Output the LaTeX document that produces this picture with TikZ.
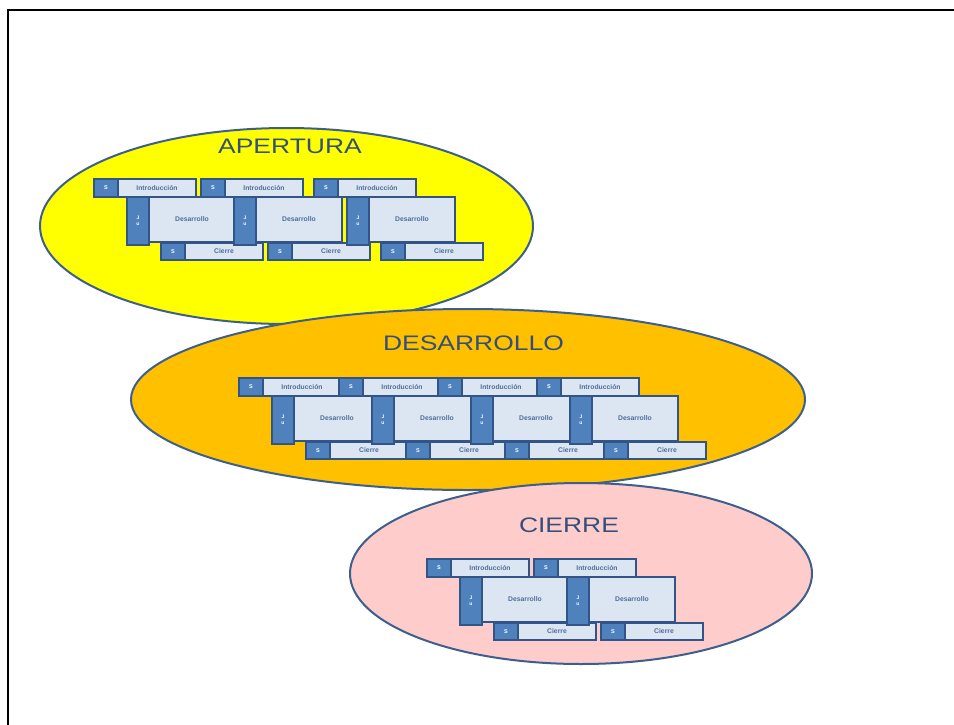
\documentclass[tikz,border=0pt]{standalone}
\usepackage{fontspec}
\setmainfont{Liberation Sans}
\newfontfamily\titlefont[FakeStretch=1.26]{Liberation Sans}
\usetikzlibrary{shapes.geometric}
\definecolor{ellborder}{HTML}{3C5F8E}
\definecolor{titlecol}{HTML}{34507A}
\definecolor{apfill}{HTML}{FFFF00}
\definecolor{desfill}{HTML}{FFC000}
\definecolor{cifill}{HTML}{FFCCCC}
\definecolor{modborder}{HTML}{325486}
\definecolor{modblue}{HTML}{4F81BD}
\definecolor{modlight}{HTML}{DCE6F2}
\definecolor{modtext}{HTML}{4F6D9A}
\tikzset{
  dkbox/.style={draw=modborder, fill=modblue, line width=2.2pt, rectangle, inner sep=0pt, outer sep=0pt,
    text=white, font=\bfseries\fontsize{5.5}{6}\selectfont},
  ltbox/.style={draw=modborder, fill=modlight, line width=2.2pt, rectangle, inner sep=0pt, outer sep=0pt,
    text=modtext, font=\bfseries\fontsize{6.8}{8}\selectfont},
  bigell/.style={draw=ellborder, line width=2pt, ellipse, inner sep=0pt},
  titletext/.style={text=titlecol, font=\titlefont\fontsize{21}{21}\selectfont, inner sep=0pt}
}
\newcommand\lessonmod[3]{%
  \begin{scope}[shift={(#2,#3)}]
    \node[dkbox, minimum width=24pt, minimum height=18pt] (#1st) at (12,9) {S};
    \node[ltbox, minimum width=78pt, minimum height=18pt] (#1in) at (63,9) {Introducción};
    \node[dkbox, minimum width=22pt, minimum height=48pt, align=center, font=\bfseries\fontsize{5}{6}\selectfont] (#1ba) at (44,42) {J\\u};
    \node[ltbox, minimum width=86pt, minimum height=45pt] (#1de) at (98,40.5) {Desarrollo};
    \node[dkbox, minimum width=24pt, minimum height=17pt] (#1sb) at (79,72.5) {S};
    \node[ltbox, minimum width=78pt, minimum height=17pt] (#1ci) at (130,72.5) {Cierre};
  \end{scope}}
\begin{document}
\begin{tikzpicture}[x=1pt,y=-1pt]
  \useasboundingbox (0,0) rectangle (954,724);
  \clip (0,0) rectangle (954,724);
  \fill[white] (0,0) rectangle (954,724);
  % frame
  \coordinate (fbl) at (8,740);
  \coordinate (ftl) at (8,10);
  \coordinate (ftr) at (970,10);
  \draw[black, line width=2.5pt] (fbl) -- (ftl) -- (ftr);
  % APERTURA
  \node[bigell, fill=apfill, minimum width=493pt, minimum height=196pt] (apert) at (286.5,226) {};
  \node[titletext] (tap) at (290,146) {APERTURA};
  \lessonmod{a1}{94}{179}
  \lessonmod{a2}{201}{179}
  \lessonmod{a3}{314}{179}
  % DESARROLLO
  \node[bigell, fill=desfill, minimum width=674pt, minimum height=181pt] (desar) at (468,399.5) {};
  \node[titletext] (tde) at (473.5,343) {DESARROLLO};
  \lessonmod{d1}{239}{378}
  \lessonmod{d2}{339}{378}
  \lessonmod{d3}{438}{378}
  \lessonmod{d4}{537}{378}
  % CIERRE
  \node[bigell, fill=cifill, minimum width=462pt, minimum height=181pt] (cierr) at (581,573.5) {};
  \node[titletext] (tci) at (569,525) {CIERRE};
  \lessonmod{c1}{427}{559}
  \lessonmod{c2}{534}{559}
\end{tikzpicture}
\end{document}
